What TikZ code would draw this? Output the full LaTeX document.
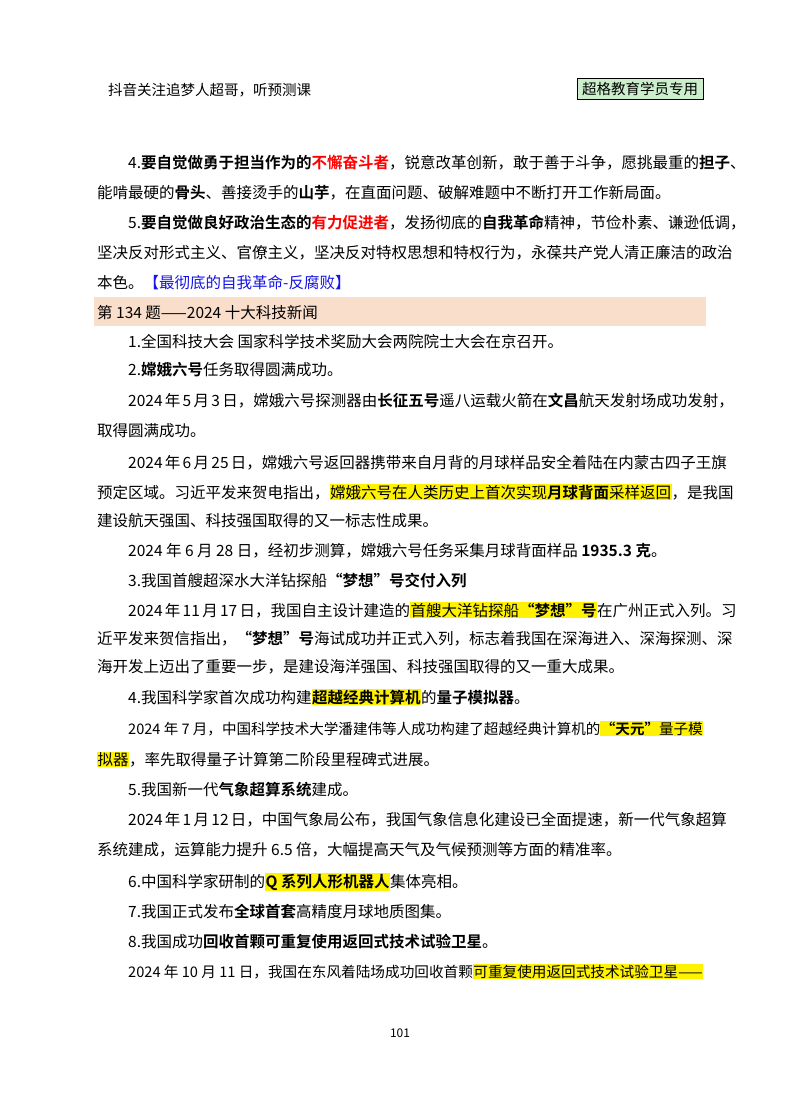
\documentclass[tikz,border=0pt]{standalone}
\usepackage{fontspec}
\usepackage{graphicx}
\setmainfont{Noto Sans CJK SC}[BoldFont={Noto Sans CJK SC Bold}]
\definecolor{band}{RGB}{250,222,204}
\definecolor{hdr}{RGB}{204,238,204}
\definecolor{myblue}{RGB}{20,20,230}
\newcommand{\hlt}[1]{{\setlength\fboxsep{0.5pt}\colorbox{yellow}{#1}}}
\newcommand{\fullL}[1]{\hbox to 606pt{#1}}
\newcommand{\fullI}[1]{\hbox to 575pt{#1}}
\newcommand{\fitI}[1]{\resizebox{575pt}{!}{#1}}
\begin{document}
\XeTeXlinebreaklocale "zh"
\XeTeXlinebreakskip=0pt plus 3pt minus 1.5pt
\begin{tikzpicture}[x=1pt,y=-1pt,
  t/.style={anchor=base west,inner sep=0pt,font=\fontsize{15.5}{18}\selectfont},
  L/.style={t,at={(97,#1)}},
  I/.style={t,at={(128,#1)}}]
\useasboundingbox (0,0) rectangle (800,1114);
\fill[white] (0,0) rectangle (800,1114);
\node[t,font=\fontsize{14.5}{17}\selectfont] (h1) at (108,95) {抖音关注追梦人超哥，听预测课};
\node[draw=black,fill=hdr,line width=0.8pt,minimum width=126pt,minimum height=21pt,inner sep=1pt,font=\fontsize{14.5}{17}\selectfont] (h2) at (640,89) {超格教育学员专用};
\node[I=168] (a1) {\fullI{4.\textbf{要自觉做勇于担当作为的\textcolor{red}{不懈奋斗者}}，锐意改革创新，敢于善于斗争，愿挑最重的\textbf{担子}、}};
\node[L=198] (a2) {能啃最硬的\textbf{骨头}、善接烫手的\textbf{山芋}，在直面问题、破解难题中不断打开工作新局面。};
\node[I=228] (a3) {\fullI{5.\textbf{要自觉做良好政治生态的\textcolor{red}{有力促进者}}，发扬彻底的\textbf{自我革命}精神，节俭朴素、谦逊低调，}};
\node[L=258] (a4) {\fullL{坚决反对形式主义、官僚主义，坚决反对特权思想和特权行为，永葆共产党人清正廉洁的政治}};
\node[L=288] (a5) {本色。\textcolor{myblue}{【最彻底的自我革命-反腐败】}};
\fill[band] (94,297) rectangle (706,326);
\node[L=318] (b0) {第 134 题——2024 十大科技新闻};
\node[I=347] (b1) {1.全国科技大会 国家科学技术奖励大会两院院士大会在京召开。};
\node[I=375] (b2) {2.\textbf{嫦娥六号}任务取得圆满成功。};
\node[I=406] (b3) {\fullI{2024 年 5 月 3 日，嫦娥六号探测器由\textbf{长征五号}遥八运载火箭在\textbf{文昌}航天发射场成功发射，}};
\node[L=436] (b4) {取得圆满成功。};
\node[I=468] (b5) {\fullI{2024 年 6 月 25 日，嫦娥六号返回器携带来自月背的月球样品安全着陆在内蒙古四子王旗}};
\node[L=498] (b6) {\fullL{预定区域。习近平发来贺电指出，\hlt{嫦娥六号在人类历史上首次实现\textbf{月球背面}采样返回}，是我国}};
\node[L=526] (b7) {建设航天强国、科技强国取得的又一标志性成果。};
\node[I=556] (b8) {2024 年 6 月 28 日，经初步测算，嫦娥六号任务采集月球背面样品 \textbf{1935.3 克}。};
\node[I=586] (c1) {3.我国首艘超深水大洋钻探船\textbf{“梦想”号交付入列}};
\node[I=616] (c2) {\fullI{2024 年 11 月 17 日，我国自主设计建造的\hlt{首艘大洋钻探船\textbf{“梦想”号}}在广州正式入列。习}};
\node[L=644] (c3) {\fullL{近平发来贺信指出，\textbf{“梦想”号}海试成功并正式入列，标志着我国在深海进入、深海探测、深}};
\node[L=672] (c4) {海开发上迈出了重要一步，是建设海洋强国、科技强国取得的又一重大成果。};
\node[I=703] (d1) {4.我国科学家首次成功构建\hlt{\textbf{超越经典计算机}}的\textbf{量子模拟器}。};
\node[I=734] (d2) {\fitI{2024 年 7 月，中国科学技术大学潘建伟等人成功构建了超越经典计算机的\hlt{\textbf{“天元”}量子模}}};
\node[L=765] (d3) {\hlt{拟器}，率先取得量子计算第二阶段里程碑式进展。};
\node[I=795] (e1) {5.我国新一代\textbf{气象超算系统}建成。};
\node[I=825] (e2) {\fullI{2024 年 1 月 12 日，中国气象局公布，我国气象信息化建设已全面提速，新一代气象超算}};
\node[L=855] (e3) {系统建成，运算能力提升 6.5 倍，大幅提高天气及气候预测等方面的精准率。};
\node[I=887] (f1) {6.中国科学家研制的\hlt{\textbf{Q 系列人形机器人}}集体亮相。};
\node[I=917] (f2) {7.我国正式发布\textbf{全球首套}高精度月球地质图集。};
\node[I=947] (f3) {8.我国成功\textbf{回收首颗可重复使用返回式技术试验卫星}。};
\node[I=977] (f4) {\fitI{2024 年 10 月 11 日，我国在东风着陆场成功回收首颗\hlt{可重复使用返回式技术试验卫星——}}};
\node[t,anchor=base,font=\fontsize{12}{14}\selectfont] (pg) at (400,1037) {101};
\end{tikzpicture}
\end{document}
